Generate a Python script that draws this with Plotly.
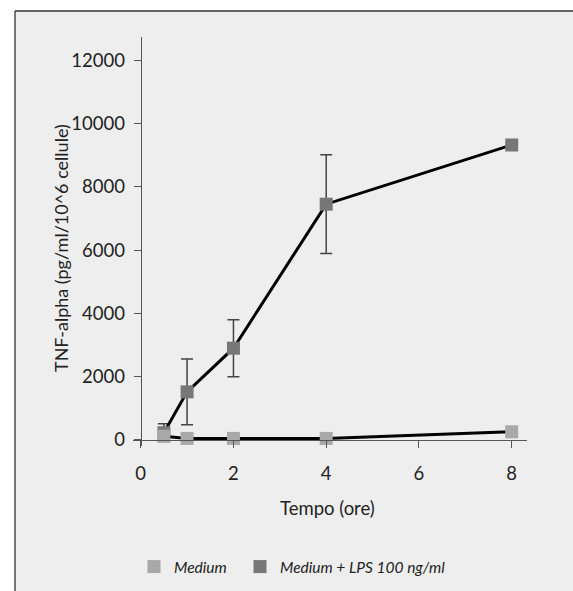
import plotly.graph_objects as go

# ---- data ----
time_h = [0.5, 1, 2, 4, 8]
medium = [120, 50, 50, 50, 260]
lps = [230, 1520, 2900, 7450, 9320]
lps_err = [280, 1040, 900, 1560, 0]
x_ticks = [0, 2, 4, 6, 8]
y_ticks = [0, 2000, 4000, 6000, 8000, 10000, 12000]

names = ["Medium", "Medium + LPS 100 ng/ml"]
colors = ["#a8a8a8", "#777777"]

FONT = "Lato, DejaVu Sans Condensed, sans-serif"

W, H = 573, 591
ML, MT = 133, 37
PW, PH = 394, 409
MR = W - ML - PW
MB = H - MT - PH

xr = [-0.166, 8.33]
yr = [-190, 12732]

def px_to_paper_x(px):
    return (px - ML) / PW

def px_to_paper_y(py):
    return 1 - (py - MT) / PH

fig = go.Figure()

# LPS series (drawn first so Medium markers sit on top)
fig.add_trace(go.Scatter(
    x=time_h, y=lps, mode="lines+markers", showlegend=False,
    line=dict(color="black", width=3),
    marker=dict(symbol="square", size=13, color=colors[1]),
    error_y=dict(type="data", array=lps_err, visible=True,
                 color="#444444", thickness=1.5, width=6),
))
fig.add_trace(go.Scatter(
    x=time_h, y=medium, mode="lines+markers", showlegend=False,
    line=dict(color="black", width=3),
    marker=dict(symbol="square", size=13, color=colors[0]),
))

# legend entries (markers only), one legend box each for exact placement
legend_ids = ["legend", "legend2"]
for nm, c, lg in zip(names, colors, legend_ids):
    fig.add_trace(go.Scatter(
        x=[None], y=[None], mode="markers", name=nm, legend=lg,
        marker=dict(symbol="square", size=13, color=c),
    ))

# background panel (fill) and its top / left border lines, kept inside the page
fig.add_shape(type="rect", xref="paper", yref="paper", layer="below",
              x0=px_to_paper_x(15), x1=px_to_paper_x(W),
              y0=px_to_paper_y(H), y1=px_to_paper_y(11),
              fillcolor="#eeeeee", line=dict(width=0))
fig.add_shape(type="line", xref="paper", yref="paper", layer="below",
              x0=px_to_paper_x(15), x1=px_to_paper_x(W),
              y0=px_to_paper_y(11), y1=px_to_paper_y(11),
              line=dict(color="#333333", width=1.3))
fig.add_shape(type="line", xref="paper", yref="paper", layer="below",
              x0=px_to_paper_x(15), x1=px_to_paper_x(15),
              y0=px_to_paper_y(H), y1=px_to_paper_y(11),
              line=dict(color="#333333", width=1.3))

TICKF = dict(family=FONT, size=18.5, color="#222222")
LEGF = dict(family=FONT, size=15.5, style="italic", color="#222222")

def legend_box(left_px):
    return dict(orientation="h", xref="container", yref="container",
                x=left_px / W, xanchor="left",
                y=1 - 567 / H, yanchor="middle", font=LEGF,
                bgcolor="rgba(0,0,0,0)", itemwidth=30)

fig.update_layout(
    width=W, height=H,
    margin=dict(l=ML, r=MR, t=MT, b=MB, pad=0, autoexpand=False),
    paper_bgcolor="white", plot_bgcolor="rgba(0,0,0,0)",
    font=dict(family=FONT, size=18, color="#222222"),
    showlegend=True,
    legend=legend_box(134),
    legend2=legend_box(240),
    xaxis=dict(range=xr, tickvals=x_ticks, ticktext=[str(v) for v in x_ticks],
               showgrid=False, zeroline=False, showline=True,
               linecolor="#555555", linewidth=1.2,
               ticks="outside", ticklen=7, tickwidth=1.2, tickcolor="#555555",
               anchor="free", position=(0 - yr[0]) / (yr[1] - yr[0]),
               ticklabelstandoff=10,
               tickfont=TICKF),
    yaxis=dict(range=yr, tickvals=y_ticks, ticktext=[str(v) for v in y_ticks],
               showgrid=False, zeroline=False, showline=True,
               linecolor="#555555", linewidth=1.2,
               ticks="outside", ticklen=7, tickwidth=1.2, tickcolor="#555555",
               anchor="free", position=(0 - xr[0]) / (xr[1] - xr[0]),
               ticklabelstandoff=5,
               tickfont=TICKF),
    annotations=[
        dict(text="Tempo (ore)", xref="paper", yref="paper",
             x=px_to_paper_x(327), y=px_to_paper_y(508),
             xanchor="center", yanchor="middle", showarrow=False,
             font=dict(family=FONT, size=18.5, color="#222222")),
        dict(text="TNF-alpha (pg/ml/10^6 cellule)", xref="paper", yref="paper",
             x=px_to_paper_x(61), y=px_to_paper_y(248), textangle=-90,
             xanchor="center", yanchor="middle", showarrow=False,
             font=dict(family=FONT, size=18, color="#222222")),
    ],
)

# remove the default page margin / scrollbars so the figure fills the window exactly
fig.write_html(
    "out.html", config={"displayModeBar": False},
    post_script=("document.body.style.margin='0';"
                 "document.body.style.overflow='hidden';"
                 "document.documentElement.style.overflow='hidden';"),
)
